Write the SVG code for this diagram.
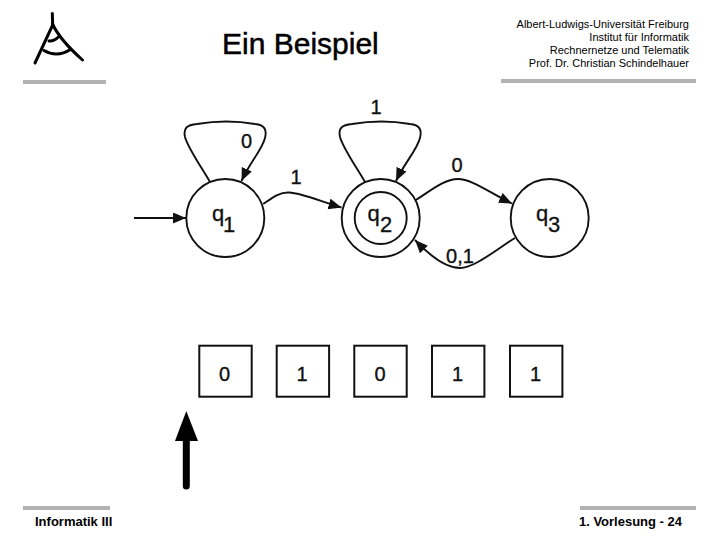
<svg xmlns="http://www.w3.org/2000/svg" width="720" height="540" viewBox="0 0 720 540">
<style>
text{font-family:"Liberation Sans",Arial,sans-serif;fill:#000}
.hd{font-size:11px;text-anchor:end}
.ft{font-size:13px;font-weight:bold}
.ttl{font-size:30px;stroke:#000;stroke-width:.5}
.lb{font-size:20px;text-anchor:middle;fill:#111;stroke:#111;stroke-width:.35}
.cell{font-size:20px;text-anchor:middle;fill:#111;stroke:#111;stroke-width:.35}
.sym{font-size:22px;fill:#111;stroke:#111;stroke-width:.3}
.st{fill:#fff;stroke:#111;stroke-width:1.9}
.bx{fill:#fff;stroke:#111;stroke-width:2}
.bar{fill:#b2b2b2}
.cn{fill:none;stroke:#111;stroke-width:1.9;marker-end:url(#ah)}
.lg{fill:none;stroke:#000;stroke-width:3;stroke-linecap:round}
</style>
<defs>
<marker id="ah" markerUnits="userSpaceOnUse" markerWidth="14" markerHeight="12" refX="13" refY="5.500" orient="auto">
<path d="M0,0L13,5.500L0,11Z" fill="#111"/>
</marker>
</defs>
<rect width="720" height="540" fill="#fff"/>
<g id="header">
<path class="lg" d="M52.300,13.500L52.700,25L35,63"/>
<path class="lg" d="M52.500,24Q60,40 82.500,60"/>
<path class="lg" d="M49,41Q54,41.500 59,36.500"/>
<path class="lg" d="M44,50.500Q57,58 70.500,49.500"/>
<rect class="bar" x="23" y="80" width="83" height="4"/>
<text class="ttl" x="222" y="54">Ein Beispiel</text>
<text class="hd" x="689" y="28">Albert-Ludwigs-Universität Freiburg</text>
<text class="hd" x="689" y="41">Institut für Informatik</text>
<text class="hd" x="689" y="54">Rechnernetze und Telematik</text>
<text class="hd" x="689" y="67">Prof. Dr. Christian Schindelhauer</text>
<rect class="bar" x="501" y="79" width="195" height="4"/>
</g>
<g id="connectors">
<path class="cn" d="M134,218L186,218"/>
<path class="cn" d="M210,182C200,165 188,148 185,137C183,128 187,125 197,124C215,121 238,121 255,124C265,125 267,130 265,138C262,150 250,162 241.500,181"/>
<path class="cn" d="M263.300,204C272,198 279,192 289,192.500C302,193 322,202 341.500,207.500"/>
<path class="cn" d="M365,182C355,165 343,148 340,137C338,128 342,125 352,124C370,121 393,121 410,124C420,125 422,130 420,138C417,150 405,162 396,181"/>
<path class="cn" d="M416,200C430,191 444,179 458,179C472,179 490,193 512,203.500"/>
<path class="cn" d="M515,238C498,248 475,268 460,268C448,268 432,258 415,240"/>
<path d="M186.300,486L186.300,440" fill="none" stroke="#000" stroke-width="7" stroke-linecap="round"/>
<path d="M186.300,411L198,441L175,441Z" fill="#000"/>
</g>
<g id="labels">
<text class="lb" x="246.500" y="148">0</text>
<text class="lb" x="296" y="184">1</text>
<text class="lb" x="376" y="114">1</text>
<text class="lb" x="457" y="172">0</text>
<text class="lb" x="460" y="263">0,1</text>
</g>
<g id="q1">
<circle class="st" cx="225.300" cy="218" r="39"/>
<text class="sym" x="212" y="221">q</text>
<text class="sym" x="223" y="232">1</text>
</g>
<g id="q2">
<circle class="st" cx="380.700" cy="218" r="39"/>
<circle class="st" cx="380.700" cy="218" r="26"/>
<text class="sym" x="367.500" y="221">q</text>
<text class="sym" x="380" y="232">2</text>
</g>
<g id="q3">
<circle class="st" cx="549.700" cy="218" r="39"/>
<text class="sym" x="536" y="221">q</text>
<text class="sym" x="548" y="232">3</text>
</g>
<g id="cell1"><rect class="bx" x="199.300" y="345.700" width="52.400" height="51"/><text class="cell" x="224.500" y="380.500">0</text></g>
<g id="cell2"><rect class="bx" x="276.700" y="345.700" width="52.400" height="51"/><text class="cell" x="302" y="380.500">1</text></g>
<g id="cell3"><rect class="bx" x="354.300" y="345.700" width="52.400" height="51"/><text class="cell" x="380" y="380.500">0</text></g>
<g id="cell4"><rect class="bx" x="432" y="345.700" width="52.400" height="51"/><text class="cell" x="457.500" y="380.500">1</text></g>
<g id="cell5"><rect class="bx" x="510" y="345.700" width="52.400" height="51"/><text class="cell" x="535.500" y="380.500">1</text></g>
<g id="footer">
<rect class="bar" x="23" y="506" width="87" height="4"/>
<text class="ft" x="35" y="526">Informatik III</text>
<rect class="bar" x="580" y="506" width="116" height="4"/>
<text class="ft" x="682" y="526" text-anchor="end">1. Vorlesung - 24</text>
</g>
</svg>
